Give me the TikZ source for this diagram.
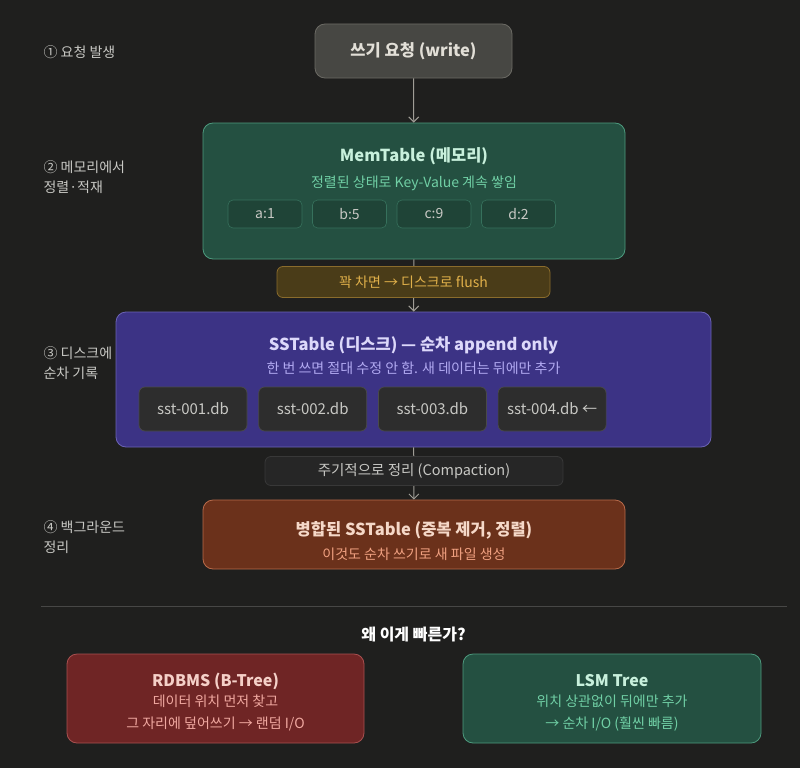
\documentclass[tikz,border=0pt]{standalone}
\usepackage{fontspec}
\setmainfont{Noto Sans CJK KR}
\usetikzlibrary{positioning, arrows.meta}

\definecolor{bgcol}{HTML}{1F1F1E}
\definecolor{writefill}{HTML}{474743}
\definecolor{writeline}{HTML}{6B6A64}
\definecolor{writetext}{HTML}{E2DFD7}
\definecolor{memfill}{HTML}{245041}
\definecolor{memline}{HTML}{4D9A7E}
\definecolor{memtitle}{HTML}{C8F0DC}
\definecolor{memtext}{HTML}{70CFA5}
\definecolor{flushfill}{HTML}{4A3C18}
\definecolor{flushline}{HTML}{8A6C2C}
\definecolor{flushtext}{HTML}{E0B04A}
\definecolor{ssfill}{HTML}{3C3385}
\definecolor{ssline}{HTML}{6B63B5}
\definecolor{sstitle}{HTML}{DCD8FA}
\definecolor{sstext}{HTML}{B2AAF2}
\definecolor{filefill}{HTML}{2D2D2D}
\definecolor{fileline}{HTML}{4A4A4A}
\definecolor{compfill}{HTML}{262626}
\definecolor{compline}{HTML}{383838}
\definecolor{mergefill}{HTML}{6B311B}
\definecolor{mergeline}{HTML}{B86A4A}
\definecolor{mergetitle}{HTML}{F5D8C8}
\definecolor{mergetext}{HTML}{F0A080}
\definecolor{rdbfill}{HTML}{6F2525}
\definecolor{rdbline}{HTML}{A85050}
\definecolor{rdbtitle}{HTML}{F5D0C8}
\definecolor{rdbtext}{HTML}{F0A8A0}
\definecolor{arrowcol}{HTML}{A09D96}
\definecolor{labelcol}{HTML}{C8C8C4}

\tikzset{
  panel/.style={rounded corners=10pt, line width=0.8pt, inner sep=0pt},
  title/.style={font=\fontsize{16.5}{19}\selectfont\bfseries},
  sub/.style={font=\fontsize{14}{17}\selectfont},
  steplabel/.style={anchor=west, align=left, text=labelcol, font=\fontsize{14}{19.5}\selectfont},
  cell/.style={rounded corners=5pt, line width=0.6pt, minimum height=28pt, minimum width=74pt, text=labelcol, font=\fontsize{14}{16}\selectfont},
  file/.style={rounded corners=6pt, line width=0.7pt, fill=filefill, draw=fileline, minimum height=44pt, minimum width=108pt, text=labelcol, font=\fontsize{15}{17}\selectfont}
}

\begin{document}
\begin{tikzpicture}[x=1pt, y=-1pt, >={Straight Barb[length=5pt,width=10pt]}]
  \fill[bgcol] (0,0) rectangle (800,768);
  \useasboundingbox (0,0) rectangle (800,768);

  % step labels
  \node[steplabel] (label 1) at (40,52) {① 요청 발생};
  \node[steplabel] (label 2) at (40,177) {② 메모리에서\\정렬·적재};
  \node[steplabel] (label 3) at (40,363) {③ 디스크에\\순차 기록};
  \node[steplabel] (label 4) at (40,537) {④ 백그라운드\\정리};

  % main boxes
  \node[panel, draw=writeline, fill=writefill, minimum width=197pt, minimum height=54pt,
    text=writetext, title] (write) at (413.5,51) {쓰기 요청 (write)};
  \node[panel, draw=memline, fill=memfill, minimum width=422pt, minimum height=136pt] (mem) at (414,191) {};
  \node[title, text=memtitle] (mem title) at (414,156) {MemTable (메모리)};
  \node[sub, text=memtext] (mem sub) at (414,183) {정렬된 상태로 Key-Value 계속 쌓임};

  \foreach \k/\x in {a:1/265, b:5/349.5, c:9/434, d:2/518.5}
    \node[cell, draw=memline!45!memfill, fill=memfill!85!black] (cell \k) at (\x,214) {\k};

  \node[panel, draw=ssline, fill=ssfill, minimum width=595pt, minimum height=135pt] (ss) at (413.5,379.5) {};
  \node[title, text=sstitle] (ss title) at (413.5,345) {SSTable (디스크) — 순차 append only};
  \node[sub, text=sstext] (ss sub) at (413.5,368) {한 번 쓰면 절대 수정 안 함. 새 데이터는 뒤에만 추가};

  \node[file] (file 1) at (193,409) {sst-001.db};
  \node[file, right=11pt of file 1] (file 2) {sst-002.db};
  \node[file, right=11pt of file 2] (file 3) {sst-003.db};
  \node[file, right=11pt of file 3] (file 4) {sst-004.db ←};

  \node[panel, draw=mergeline, fill=mergefill, minimum width=422pt, minimum height=69pt] (merge) at (414,534.5) {};
  \node[title, text=mergetitle] (merge title) at (414,530) {병합된 SSTable (중복 제거, 정렬)};
  \node[sub, text=mergetext] (merge sub) at (414,554) {이것도 순차 쓰기로 새 파일 생성};

  % connectors
  \draw[->, arrowcol, line width=1pt] (write) -- (mem);
  \draw[->, arrowcol, line width=1pt] (mem) -- (ss);
  \draw[->, arrowcol, line width=1pt] (ss) -- (merge);

  \node[rounded corners=6pt, line width=0.8pt, draw=flushline, fill=flushfill, minimum width=273pt,
    minimum height=31pt, text=flushtext, font=\fontsize{14}{16}\selectfont] (flush) at (413.5,282) {꽉 차면 → 디스크로 flush};
  \node[rounded corners=6pt, line width=0.8pt, draw=compline, fill=compfill, minimum width=298pt,
    minimum height=29pt, text=labelcol, font=\fontsize{14.5}{17}\selectfont] (compact) at (414,471) {주기적으로 정리 (Compaction)};

  % comparison
  \coordinate (sep left) at (41,606);
  \coordinate (sep right) at (787,606);
  \draw[line width=0.8pt, white!18!bgcol] (sep left) -- (sep right);
  \node[font=\fontsize{16}{19}\selectfont\bfseries, text=white] (why) at (413.5,635) {왜 이게 빠른가?};

  \node[panel, draw=rdbline, fill=rdbfill, minimum width=297pt, minimum height=89pt] (rdb) at (215.5,698.5) {};
  \node[title, text=rdbtitle, font=\fontsize{16}{19}\selectfont\bfseries] (rdb title) at (215.5,681) {RDBMS (B-Tree)};
  \node[sub, text=rdbtext, align=center, font=\fontsize{14}{22}\selectfont] (rdb sub) at (215.5,713) {데이터 위치 먼저 찾고\\그 자리에 덮어쓰기 → 랜덤 I/O};

  \node[panel, draw=memline, fill=memfill, minimum width=298pt, minimum height=89pt] (lsm) at (612,698.5) {};
  \node[title, text=memtitle, font=\fontsize{16}{19}\selectfont\bfseries] (lsm title) at (612,681) {LSM Tree};
  \node[sub, text=memtext, align=center, font=\fontsize{14}{22}\selectfont] (lsm sub) at (612,713) {위치 상관없이 뒤에만 추가\\→ 순차 I/O (훨씬 빠름)};
\end{tikzpicture}
\end{document}
